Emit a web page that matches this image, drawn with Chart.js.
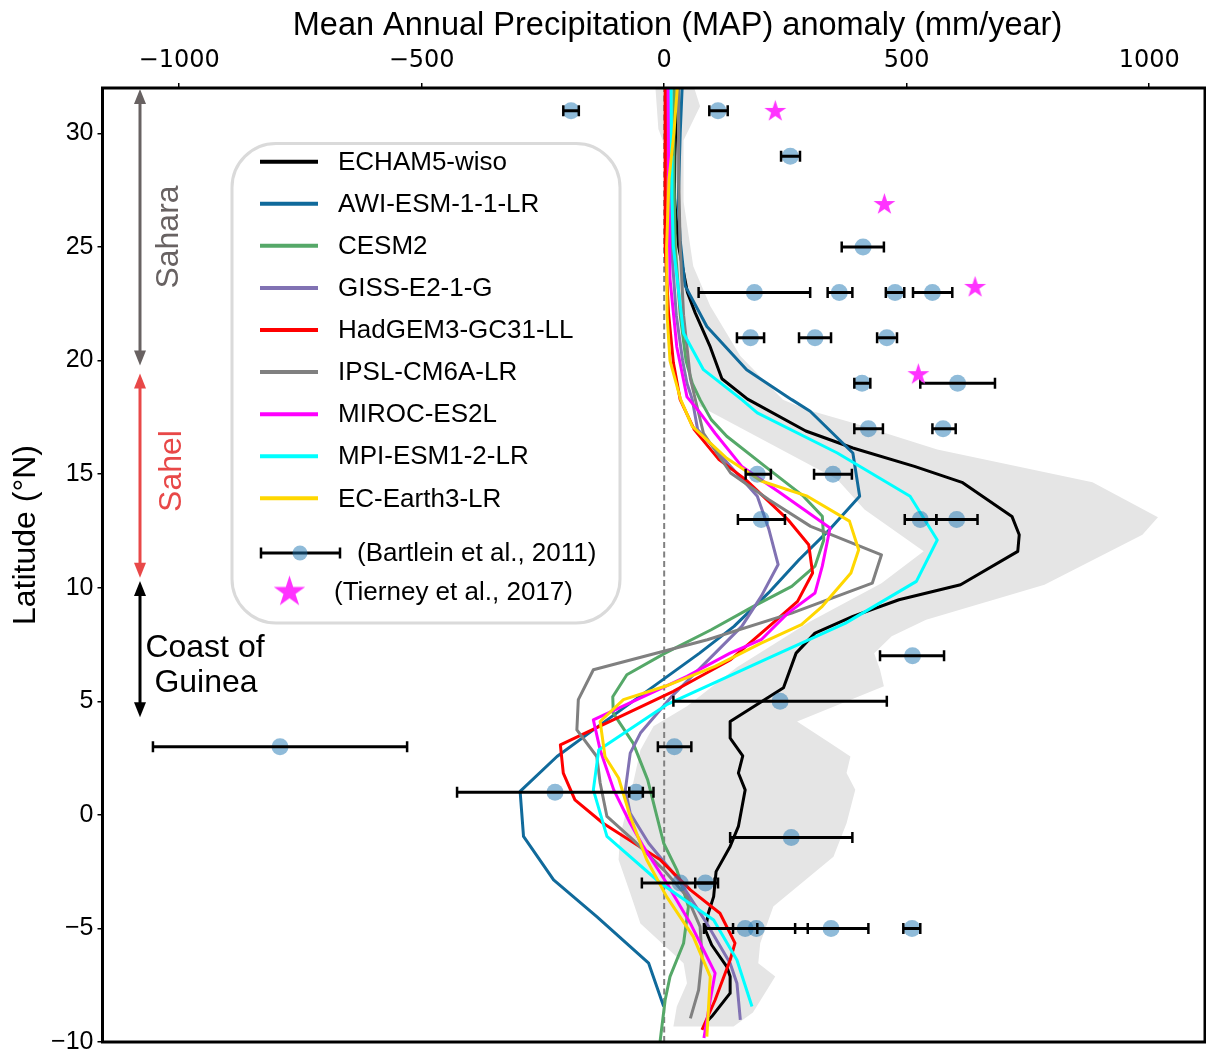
<!DOCTYPE html>
<html>
<head>
<meta charset="utf-8">
<script src="https://cdn.jsdelivr.net/npm/chart.js@4.4.1/dist/chart.umd.min.js"></script>
<style>
  html, body { margin: 0; padding: 0; background: #ffffff; }
  #wrap { width: 1206px; height: 1053px; position: relative; }
</style>
</head>
<body>
<div id="wrap"><canvas id="chart" width="1206" height="1053"></canvas></div>
<script>
// ---- Model MAP anomaly profiles (mm/year) against latitude (°N) ----
const echamLat = [32, 29, 27.2, 25, 23, 22.1, 20.6, 19.2, 18.3, 16.9, 16.15, 15.34, 14.64, 13.14, 12.33, 11.6, 10.13, 9.47, 8.74, 8.0, 7.12, 5.6, 4.11, 3.38, 2.6, 1.84, 1.1, -0.51, -1.39, -2.5, -3.6, -4.33, -5.07, -5.73, -6.68, -7.12, -7.85, -8.88, -9.1];
const echamMap = [27, 22, 21, 30, 48, 64, 95, 119, 172, 292, 389, 516, 614, 717, 732, 729, 611, 484, 389, 311, 272, 246, 136, 136, 162, 153, 167, 153, 136, 107, 102, 91, 85, 98, 129, 136, 136, 98, 88];

const awiLat = [32, 30, 27, 25.3, 23.3, 21.5, 19.6, 18.28, 17.77, 15.93, 14.03, 12.56, 11.23, 9.77, 8.3, 7.12, 3.74, 2.57, 1.03, -0.95, -2.86, -4.48, -6.53, -8.44];
const awiMap = [37, 33, 29, 33, 43, 88, 170, 263, 301, 389, 403, 341, 278, 215, 144, 73, -146, -221, -297, -290, -228, -139, -32, -1];

const cesmLat = [32, 28, 25, 22, 20, 19, 18.28, 17.4, 16.67, 15.34, 14.03, 13.15, 12.1, 10.95, 10.06, 9.18, 8.15, 7.12, 6.17, 5.2, 4.48, 3.16, 1.54, -0.07, -1.25, -2.42, -4.04, -5.65, -7.12, -8.15, -9.9, -10.5];
const cesmMap = [20, 20, 23, 33, 45, 58, 74, 97, 129, 208, 287, 326, 329, 311, 263, 184, 97, 2, -77, -106, -105, -64, -34, -15, -1, 26, 50, 40, 12, 2, -8, -10];

const gissLat = [32, 28, 25, 22, 20, 19, 18.28, 16.96, 15.34, 14.03, 12.56, 11.02, 9.62, 8.3, 7.12, 5.2, 3.6, 2.72, 1.1, 0.07, -1.25, -2.86, -4.78, -6.53, -7.41, -9.03];
const gissMap = [10, 12, 15, 25, 38, 47, 58, 69, 137, 192, 216, 235, 200, 160, 105, 15, -49, -70, -80, -70, -32, 30, 88, 136, 150, 157];

const hadLat = [32, 28, 25, 22.1, 19.9, 18.28, 16.96, 15.64, 14.76, 13.0, 11.89, 10.65, 9.4, 8.44, 6.83, 5.44, 3.08, 1.84, 0.66, -0.37, -1.98, -3.3, -4.33, -5.65, -6.39, -8.15, -9.47];
const hadMap = [3, 2, 2, 9, 19, 33, 62, 113, 168, 255, 298, 306, 275, 224, 137, 19, -214, -208, -184, -126, -8, 54, 115, 146, 136, 105, 78];

const ipslLat = [32, 28, 25, 22, 19.2, 16.8, 15.05, 13.87, 12.7, 11.45, 10.2, 8.88, 7.71, 6.39, 5.07, 3.74, 2.57, 1.4, -0.07, -1.1, -2.42, -3.6, -4.92, -6.24, -7.71, -8.96];
const ipslMap = [29, 30, 33, 40, 54, 81, 137, 216, 302, 448, 429, 263, 89, -146, -177, -180, -139, -132, -118, -64, -1, 47, 74, 78, 71, 54];

const mirocLat = [32, 28, 23.6, 20.6, 18.4, 17.7, 16.8, 15.34, 14.18, 12.63, 10.95, 9.77, 8.88, 7.71, 7.12, 6.1, 4.18, 2.86, 1.1, -0.37, -1.39, -3.0, -4.78, -6.97, -8.15, -9.82];
const mirocMap = [8, 9, 12, 26, 47, 74, 105, 160, 239, 342, 326, 311, 255, 200, 136, 47, -146, -132, -104, -70, -43, 5, 54, 105, 95, 82];

const mpiLat = [32, 29, 27.2, 25, 23, 21.2, 19.6, 18.28, 17.7, 15.93, 14.03, 12.1, 10.28, 8.44, 6.83, 4.85, 2.86, 1.1, -0.95, -3.0, -4.63, -6.39, -8.44];
const mpiMap = [14, 15, 16, 19, 30, 40, 81, 160, 192, 357, 507, 563, 520, 374, 208, 5, -135, -146, -118, -8, 102, 150, 181];

const ecLat = [32, 30, 28, 25, 22, 20, 18.28, 17.1, 15.7, 14.7, 14.03, 12.93, 11.67, 10.65, 9.18, 8.37, 7.56, 6.54, 5.66, 5.07, 4.11, 2.57, 1.62, -0.07, -1.98, -3.6, -5.36, -7.12, -9.76];
const ecMap = [27, 20, 10, 5, 6, 12, 34, 58, 129, 200, 295, 382, 401, 385, 326, 283, 200, 105, 2, -84, -132, -122, -94, -70, -36, 5, 60, 95, 88];

// ---- Shaded spread: right and left edges, listed from north to south ----
const shadeRightLat = [32.0, 31.2, 29.7, 27.0, 24.15, 22.4, 20.2, 18.28, 17.84, 17.25, 16.08, 14.64, 13.1, 12.33, 10.13, 8.59, 7.86, 7.12, 6.39, 5.66, 4.11, 3.16, 2.57, 1.84, 1.1, -0.37, -1.84, -4.04, -5.65, -6.53, -7.12, -8.7, -9.32];
const shadeRight = [62, 74, 40, 40, 60, 95, 157, 245, 295, 390, 563, 883, 1018, 986, 784, 540, 469, 433, 445, 453, 274, 342, 384, 376, 394, 376, 349, 225, 198, 194, 229, 183, 143];
const shadeLeftLat = [32.0, 30.2, 29.4, 28.0, 25.5, 23.6, 21.0, 19.2, 18.0, 14.76, 13.44, 11.6, 10.2, 8.5, 6.5, 4.78, 3.9, 2.86, 1.4, -0.95, -1.98, -3.45, -4.78, -6.53, -7.41, -8.44, -9.32];
const shadeLeft = [-18, -12, 2, 5, 10, 22, 38, 57, 73, 357, 413, 535, 448, 300, 150, 47, -22, -49, -64, -91, -94, -70, -49, 40, 47, 26, 19];

// ---- Pollen-based reconstruction (Bartlein et al., 2011): value and error range ----
const bartLat = [31, 31, 29, 25, 23, 23, 23, 23, 21, 21, 21, 19, 19, 17, 17, 15, 15, 13, 13, 13, 7, 5, 3, 3, 1, 1, -1, -3, -3, -5, -5, -5, -5];
const bartMap = [-192, 111, 260, 410, 186, 361, 476, 553, 178, 311, 459, 408, 605, 421, 575, 192, 348, 200, 528, 603, 512, 239, 21, -792, -225, -58, 262, 33, 85, 167, 190, 344, 511];
const bartLo  = [-208, 93, 241, 366, 71, 337, 457, 513, 150, 278, 439, 392, 528, 392, 553, 168, 309, 152, 496, 561, 445, 19, -13, -1054, -427, -72, 136, -46, 64, 142, 82, 270, 493];
const bartHi  = [-176, 131, 280, 453, 301, 388, 495, 594, 206, 344, 480, 425, 682, 451, 601, 220, 387, 249, 561, 646, 577, 459, 56, -530, -22, -44, 388, 111, 104, 192, 296, 421, 528];

// ---- Leaf-wax reconstruction (Tierney et al., 2017) ----
const tierLat = [30.97, 26.87, 23.22, 19.38];
const tierMap = [229, 454, 641, 524];

// ---- Axis ticks ----
const xTicks = [-1000, -500, 0, 500, 1000];
const yTicks = [-10, -5, 0, 5, 10, 15, 20, 25, 30];

const models = [
  { name: 'ECHAM5-wiso',     lat: echamLat, map: echamMap, color: '#000000' },
  { name: 'AWI-ESM-1-1-LR',  lat: awiLat,   map: awiMap,   color: '#106a9b' },
  { name: 'CESM2',           lat: cesmLat,  map: cesmMap,  color: '#55a868' },
  { name: 'GISS-E2-1-G',     lat: gissLat,  map: gissMap,  color: '#8172b3' },
  { name: 'HadGEM3-GC31-LL', lat: hadLat,   map: hadMap,   color: '#ff0000' },
  { name: 'IPSL-CM6A-LR',    lat: ipslLat,  map: ipslMap,  color: '#808080' },
  { name: 'MIROC-ES2L',      lat: mirocLat, map: mirocMap, color: '#ff00ff' },
  { name: 'MPI-ESM1-2-LR',   lat: mpiLat,   map: mpiMap,   color: '#00ffff' },
  { name: 'EC-Earth3-LR',    lat: ecLat,    map: ecMap,    color: '#ffd700' }
];

const SANS = '"Liberation Sans", Arial, Helvetica, sans-serif';
const BART_FILL = 'rgba(31,119,180,0.5)';
const STAR_COLOR = '#ff33ff';

function pts(lat, vals) { return lat.map((y, i) => ({ x: vals[i], y: y })); }

function starCanvas(outer) {
  const size = Math.ceil(outer * 2 + 2);
  const c = document.createElement('canvas');
  c.width = size; c.height = size;
  const g = c.getContext('2d');
  const inner = outer * 0.382;
  g.fillStyle = STAR_COLOR;
  g.beginPath();
  for (let i = 0; i < 10; i++) {
    const r = i % 2 ? inner : outer;
    const a = -Math.PI / 2 + i * Math.PI / 5;
    g.lineTo(size / 2 + r * Math.cos(a), size / 2 + r * Math.sin(a));
  }
  g.closePath();
  g.fill();
  return c;
}
const starSmall = starCanvas(11.5);
const starLegend = starCanvas(16.5);

const shadePoly = pts(shadeRightLat, shadeRight).concat(pts(shadeLeftLat, shadeLeft).reverse());

const datasets = [];
datasets.push({
  data: shadePoly, showLine: true, fill: 'shape', backgroundColor: '#e5e5e5',
  borderColor: 'rgba(0,0,0,0)', borderWidth: 0, pointRadius: 0, order: 100
});
datasets.push({
  data: [{ x: 0, y: -10 }, { x: 0, y: 32 }], showLine: true, borderColor: '#808080',
  borderWidth: 2, borderDash: [6, 3.5], pointRadius: 0, order: 90
});
models.forEach((m, k) => {
  datasets.push({
    label: m.name, data: pts(m.lat, m.map), showLine: true, borderColor: m.color,
    borderWidth: 3, borderJoinStyle: 'round', pointRadius: 0, fill: false, order: 60 - k
  });
});
datasets.push({
  data: pts(bartLat, bartMap), showLine: false, pointRadius: 8.5,
  pointBackgroundColor: BART_FILL, pointBorderWidth: 0, pointBorderColor: 'rgba(0,0,0,0)', order: 20
});
bartLat.forEach((lat, i) => {
  datasets.push({
    data: [{ x: bartLo[i], y: lat }, { x: bartHi[i], y: lat }], showLine: true,
    borderColor: '#000', borderWidth: 3, pointStyle: 'line', pointRotation: 90,
    pointRadius: 5.5, pointBorderColor: '#000', pointBorderWidth: 2.5, order: 10
  });
});
datasets.push({
  data: pts(tierLat, tierMap), showLine: false, pointStyle: starSmall, pointRadius: 12, order: 5
});

function minusFmt(v) { return v < 0 ? '\u2212' + Math.abs(v) : String(v); }

function drawArrow(ctx, x, yTop, yBot, color) {
  const head = 15, half = 6;
  ctx.save();
  ctx.strokeStyle = color; ctx.fillStyle = color; ctx.lineWidth = 3;
  ctx.beginPath(); ctx.moveTo(x, yTop + head - 2); ctx.lineTo(x, yBot - head + 2); ctx.stroke();
  ctx.beginPath(); ctx.moveTo(x, yTop); ctx.lineTo(x - half, yTop + head); ctx.lineTo(x + half, yTop + head); ctx.closePath(); ctx.fill();
  ctx.beginPath(); ctx.moveTo(x, yBot); ctx.lineTo(x - half, yBot - head); ctx.lineTo(x + half, yBot - head); ctx.closePath(); ctx.fill();
  ctx.restore();
}

const decor = {
  id: 'decor',
  afterDatasetsDraw(chart) {
    const ctx = chart.ctx, ca = chart.chartArea, ys = chart.scales.y;
    // plot frame
    ctx.save();
    ctx.strokeStyle = '#000'; ctx.lineWidth = 3;
    ctx.strokeRect(ca.left, ca.top, ca.right - ca.left, ca.bottom - ca.top);
    ctx.restore();

    // climate zones along the left edge
    drawArrow(ctx, 140, ys.getPixelForValue(32) + 1, ys.getPixelForValue(19.78), '#686262');
    drawArrow(ctx, 140, ys.getPixelForValue(19.43), ys.getPixelForValue(10.44), '#e84848');
    drawArrow(ctx, 140, ys.getPixelForValue(10.3), ys.getPixelForValue(4.3), '#000000');
    ctx.save();
    ctx.font = '32px ' + SANS;
    ctx.textAlign = 'center'; ctx.textBaseline = 'alphabetic';
    ctx.save(); ctx.translate(178, 237); ctx.rotate(-Math.PI / 2); ctx.fillStyle = '#686262'; ctx.fillText('Sahara', 0, 0); ctx.restore();
    ctx.save(); ctx.translate(181, 471); ctx.rotate(-Math.PI / 2); ctx.fillStyle = '#e84848'; ctx.fillText('Sahel', 0, 0); ctx.restore();
    ctx.fillStyle = '#000';
    ctx.fillText('Coast of', 205, 657);
    ctx.fillText('Guinea', 206, 692);
    ctx.restore();

    // legend box
    ctx.save();
    const bx = 232, by = 143.5, bw = 388, bh = 479.5, br = 44;
    ctx.beginPath();
    ctx.roundRect(bx, by, bw, bh, br);
    ctx.fillStyle = '#ffffff'; ctx.fill();
    ctx.strokeStyle = '#dadada'; ctx.lineWidth = 3; ctx.stroke();
    ctx.font = '26px ' + SANS;
    ctx.textAlign = 'left'; ctx.textBaseline = 'middle'; ctx.fillStyle = '#000';
    models.forEach((m, k) => {
      const y = 161.7 + k * 42.08;
      ctx.strokeStyle = m.color; ctx.lineWidth = 4;
      ctx.beginPath(); ctx.moveTo(260, y); ctx.lineTo(318, y); ctx.stroke();
      ctx.fillText(m.name, 338, y + 1);
    });
    const yb = 553;
    ctx.strokeStyle = '#000'; ctx.lineWidth = 3;
    ctx.beginPath(); ctx.moveTo(261, yb); ctx.lineTo(340, yb); ctx.stroke();
    ctx.lineWidth = 2.5;
    ctx.beginPath(); ctx.moveTo(261, yb - 5.5); ctx.lineTo(261, yb + 5.5); ctx.moveTo(340, yb - 5.5); ctx.lineTo(340, yb + 5.5); ctx.stroke();
    ctx.fillStyle = BART_FILL;
    ctx.beginPath(); ctx.arc(300, yb, 7.5, 0, Math.PI * 2); ctx.fill();
    ctx.fillStyle = '#000';
    ctx.fillText('(Bartlein et al., 2011)', 357, yb + 1);
    const yt = 592;
    ctx.drawImage(starLegend, 289.5 - starLegend.width / 2, yt - starLegend.height / 2);
    ctx.fillText('(Tierney et al., 2017)', 334, yt + 1);
    ctx.restore();
  },
  afterDraw(chart) {
    const ctx = chart.ctx;
    ctx.save();
    ctx.fillStyle = '#000';
    ctx.font = '32.5px ' + SANS;
    ctx.textAlign = 'center'; ctx.textBaseline = 'alphabetic';
    ctx.fillText('Mean Annual Precipitation (MAP) anomaly (mm/year)', 677.5, 35);
    ctx.translate(35, 535); ctx.rotate(-Math.PI / 2);
    ctx.font = '32px ' + SANS;
    ctx.fillText('Latitude (\u00B0N)', 0, 0);
    ctx.restore();
  }
};

function fixedTicks(values) {
  return function (s) { s.ticks = values.map(v => ({ value: v })); };
}
function noOverflow(size, horizontal) {
  return function (s) {
    if (horizontal) { s.height = size; } else { s.width = size; }
    s.paddingLeft = 0; s.paddingRight = 0; s.paddingTop = 0; s.paddingBottom = 0;
  };
}

new Chart(document.getElementById('chart'), {
  type: 'scatter',
  data: { datasets: datasets },
  options: {
    responsive: false,
    devicePixelRatio: 1,
    animation: false,
    events: [],
    layout: { autoPadding: false, padding: { left: 0, right: 1, top: 0, bottom: 11 } },
    plugins: { legend: { display: false }, tooltip: { enabled: false } },
    scales: {
      x: {
        type: 'linear', position: 'top', min: -1158, max: 1115,
        afterBuildTicks: fixedTicks(xTicks),
        ticks: {
          maxRotation: 0, autoSkip: false,
          font: { family: '"DejaVu Sans", sans-serif', size: 24 }, color: '#000', padding: 8,
          callback: minusFmt
        },
        grid: { drawOnChartArea: false, drawTicks: true, tickLength: 5, color: '#000', lineWidth: 1.5 },
        border: { display: false },
        afterFit: noOverflow(88, true)
      },
      y: {
        type: 'linear', min: -10, max: 32,
        afterBuildTicks: fixedTicks(yTicks),
        ticks: {
          autoSkip: false,
          font: { family: SANS, size: 25 }, color: '#000', padding: 4,
          callback: minusFmt
        },
        grid: { drawOnChartArea: false, drawTicks: true, tickLength: 5, color: '#000', lineWidth: 1.5 },
        border: { display: false },
        afterFit: noOverflow(102.5, false)
      }
    }
  },
  plugins: [decor]
});
</script>
</body>
</html>
